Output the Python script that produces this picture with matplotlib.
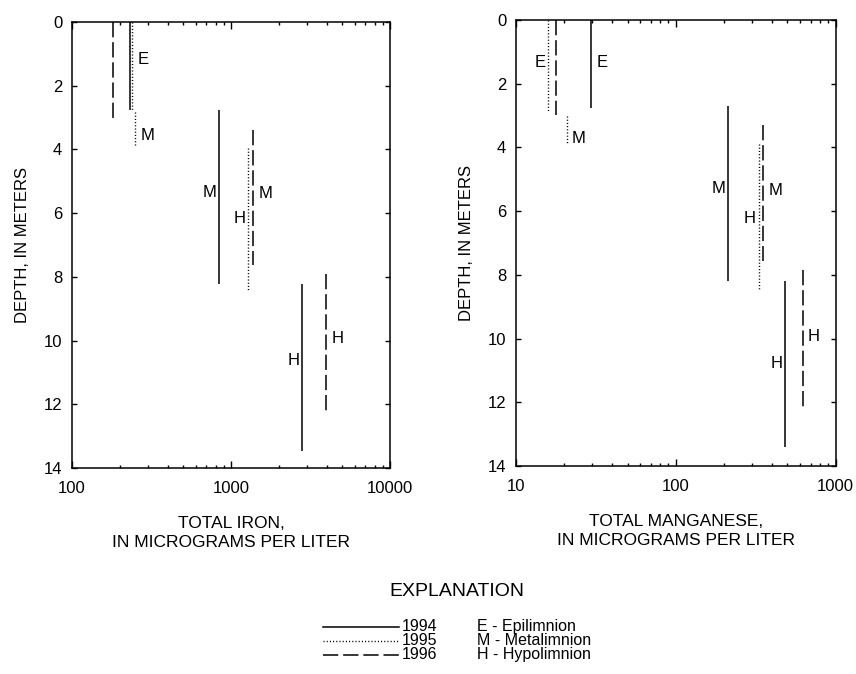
import matplotlib
matplotlib.use("Agg")
import matplotlib.pyplot as plt
from matplotlib.lines import Line2D
from matplotlib.ticker import FixedLocator, LogLocator, NullFormatter, NullLocator, FuncFormatter

plt.rcParams['font.family'] = ['Liberation Sans', 'DejaVu Sans']

years = [1994, 1995, 1996]
zones = ['E', 'M', 'H']
zone_names = ['Epilimnion', 'Metalimnion', 'Hypolimnion']
depth_ticks = [0, 2, 4, 6, 8, 10, 12, 14]

# Total iron (micrograms per liter) by year, for the E, M and H layers,
# with the top and bottom depth (meters) of each layer
iron_value = {1994: [231, 845, 2808], 1995: [239, 249, 1288], 1996: [180, 1380, 3955]}
iron_top = {1994: [0, 2.75, 8.22], 1995: [0, 2.82, 3.97], 1996: [0, 3.38, 7.9]}
iron_bottom = {1994: [2.77, 8.22, 13.46], 1995: [2.77, 3.92, 8.45], 1996: [3.03, 7.64, 12.2]}
iron_ticks = [100, 1000, 10000]

# Total manganese (micrograms per liter)
mn_value = {1994: [29.6, 212, 486], 1995: [15.95, 20.8, 330], 1996: [17.8, 352, 624]}
mn_top = {1994: [0, 2.69, 8.18], 1995: [0, 3.01, 3.9], 1996: [0, 3.3, 7.86]}
mn_bottom = {1994: [2.75, 8.2, 13.39], 1995: [2.85, 3.88, 8.44], 1996: [2.99, 7.57, 12.18]}
mn_ticks = [10, 100, 1000]

# Layer letters: (year, zone) -> (side of the line, depth of the letter)
iron_letters = {
    (1995, 'E'): ('right', 1.19),
    (1995, 'M'): ('right', 3.55),
    (1994, 'M'): ('left', 5.36),
    (1995, 'H'): ('left', 6.16),
    (1996, 'M'): ('right', 5.38),
    (1994, 'H'): ('left', 10.61),
    (1996, 'H'): ('right', 9.93),
}
mn_letters = {
    (1995, 'E'): ('left', 1.34),
    (1994, 'E'): ('right', 1.34),
    (1995, 'M'): ('right', 3.71),
    (1994, 'M'): ('left', 5.28),
    (1995, 'H'): ('left', 6.22),
    (1996, 'M'): ('right', 5.36),
    (1994, 'H'): ('left', 10.78),
    (1996, 'H'): ('right', 9.92),
}

year_style = {
    1994: dict(linestyle='-', linewidth=1.1),
    1995: dict(linestyle=(0, (0.8, 1.5)), linewidth=1.0),
    1996: dict(linestyle=(0, (10, 3.2)), linewidth=1.1),
}

W, H = 856, 674
fig = plt.figure(figsize=(W / 100, H / 100), dpi=100)


def px_axes(left, top, right, bottom):
    return fig.add_axes([left / W, 1 - bottom / H, (right - left) / W, (bottom - top) / H])


def draw_panel(ax, value, top, bottom, letters, ticks, xlabel):
    for yr in years:
        for i, z in enumerate(zones):
            v = value[yr][i]
            ax.plot([v, v], [top[yr][i], bottom[yr][i]], color='black',
                    solid_capstyle='butt', dash_capstyle='butt', **year_style[yr])
            if (yr, z) in letters:
                side, d = letters[(yr, z)]
                off = 3.8 if side == 'right' else -2.0
                ax.annotate(z, xy=(v, d), xytext=(off, 0), textcoords='offset points',
                            ha='left' if side == 'right' else 'right', va='center',
                            fontsize=12)
    ax.set_xscale('log')
    ax.set_xlim(ticks[0], ticks[-1])
    ax.set_ylim(14, 0)
    ax.xaxis.set_major_locator(FixedLocator(ticks))
    ax.xaxis.set_minor_locator(LogLocator(base=10, subs=range(2, 10)))
    ax.xaxis.set_major_formatter(FuncFormatter(lambda v, _: f'{v:g}'))
    ax.xaxis.set_minor_formatter(NullFormatter())
    ax.yaxis.set_major_locator(FixedLocator(depth_ticks))
    ax.yaxis.set_minor_locator(NullLocator())
    ax.tick_params(which='both', direction='in', top=True, right=True,
                   labelsize=12, width=1.0, color='black')
    ax.tick_params(axis='x', which='major', length=5, pad=9.5)
    ax.tick_params(axis='x', which='minor', length=2.5)
    ax.tick_params(axis='y', which='major', length=3.6, pad=7)
    for s in ax.spines.values():
        s.set_linewidth(1.1)
    ax.set_ylabel('DEPTH, IN METERS', fontsize=12, labelpad=10)
    ax.set_xlabel(xlabel, fontsize=12.5, labelpad=14, linespacing=1.35)


ax1 = px_axes(72, 22, 390, 468)
draw_panel(ax1, iron_value, iron_top, iron_bottom, iron_letters, iron_ticks,
           'TOTAL IRON,\nIN MICROGRAMS PER LITER')

ax2 = px_axes(516, 20, 835.5, 466)
draw_panel(ax2, mn_value, mn_top, mn_bottom, mn_letters, mn_ticks,
           'TOTAL MANGANESE,\nIN MICROGRAMS PER LITER')

# Explanation block
fig.text(457 / W, 1 - 591.5 / H, 'EXPLANATION', ha='center', va='center', fontsize=14)
legend_rows = [626.7, 640.5, 654.5]
for yr, z, name, yrow in zip(years, zones, zone_names, legend_rows):
    fy = 1 - yrow / H
    fig.add_artist(Line2D([323 / W, 399 / W], [fy, fy], transform=fig.transFigure,
                          color='black', **year_style[yr]))
    fig.text(402 / W, fy, str(yr), ha='left', va='center', fontsize=11.5)
    fig.text(476.7 / W, fy, f'{z} - {name}', ha='left', va='center', fontsize=11.5)

fig.savefig('out.png', dpi=100)
